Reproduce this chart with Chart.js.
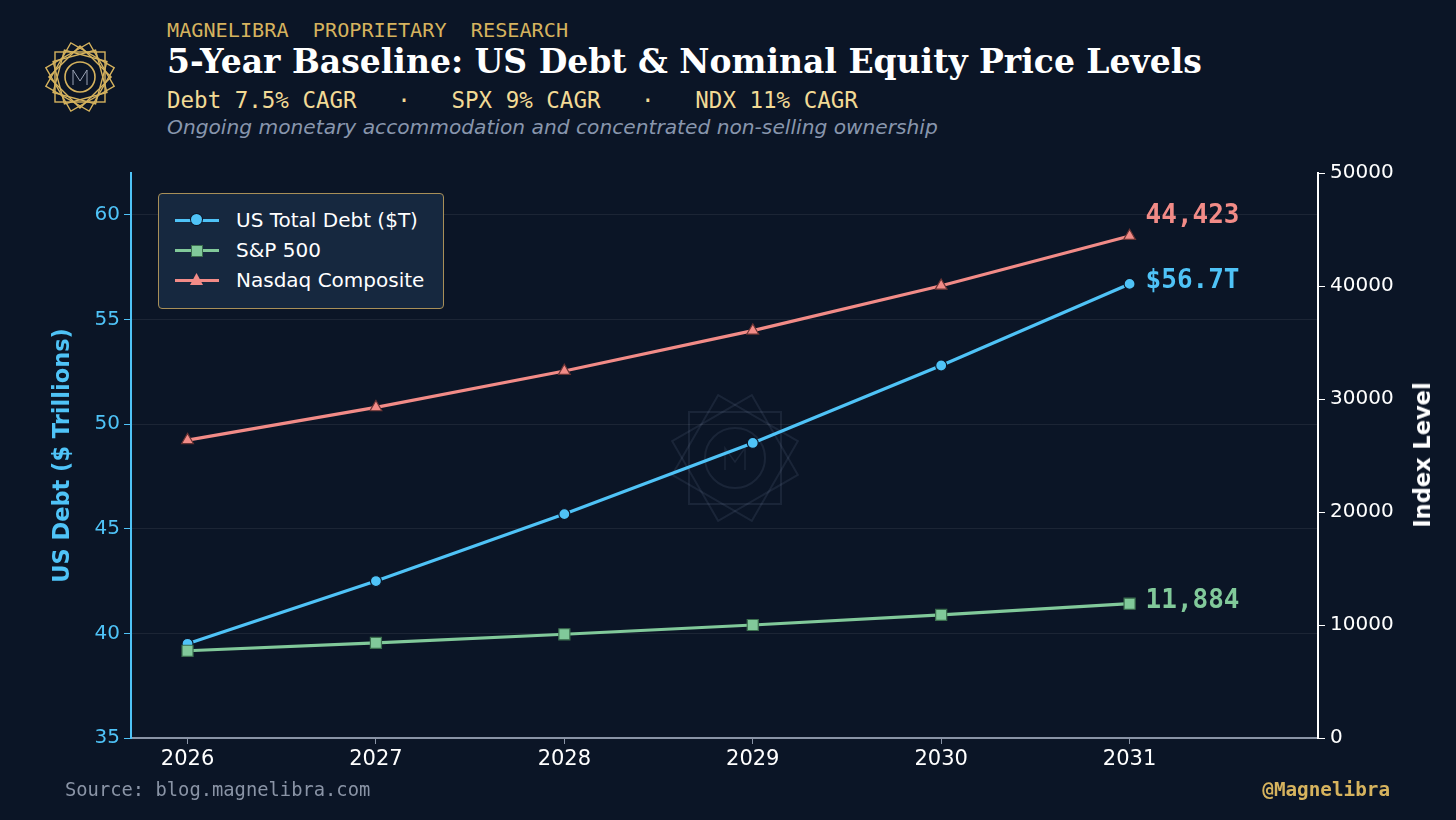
<!DOCTYPE html>
<html>
<head>
<meta charset="utf-8">
<script src="https://cdn.jsdelivr.net/npm/chart.js@4.4.1/dist/chart.umd.min.js"></script>
<style>
    html, body { margin: 0; padding: 0; }
    body {
        width: 1456px; height: 820px; overflow: hidden;
        background: #0b1526; position: relative;
        font-family: 'DejaVu Sans', sans-serif;
    }
    .abs { position: absolute; white-space: pre; }
    #kicker { left: 167px; top: 17px; font: 20.2px 'DejaVu Sans Mono', monospace; color: #d6b35e; line-height: 26px; }
    #title { left: 167px; top: 42px; font: bold 33px 'DejaVu Serif', serif; color: #ffffff; line-height: 40px; }
    #rates { left: 167px; top: 86px; font: 22.5px 'DejaVu Sans Mono', monospace; color: #f2da95; line-height: 28px; }
    #note { left: 167px; top: 114px; font: oblique 20.2px 'DejaVu Sans', sans-serif; color: #8896ad; line-height: 26px; }
    #source { left: 65px; top: 778px; font: 18.8px 'DejaVu Sans Mono', monospace; color: #8a94a6; line-height: 24px; }
    #handle { right: 66px; top: 778px; font: bold 19.3px 'DejaVu Sans Mono', monospace; color: #d6b35e; line-height: 24px; }
    #rightTitle {
        left: 1422px; top: 455px; font: bold 22.5px 'DejaVu Sans', sans-serif; color: #ffffff;
        line-height: 26px; transform: translate(-50%, -50%) rotate(-90deg);
    }
    #chart { position: absolute; left: 0; top: 0; }
    #legend {
        position: absolute; left: 158px; top: 193px; width: 284px; height: 114px;
        background: #16283f; border: 1px solid #a88f58; border-radius: 4px;
    }
    .row { position: absolute; left: 16px; height: 30px; }
    .row .line { position: absolute; left: 0; top: 13px; width: 44px; height: 3px; }
    .row .mk { position: absolute; }
    .row .lbl { position: absolute; left: 61px; top: 0; font: 20px 'DejaVu Sans', sans-serif; color: #ffffff; line-height: 28px; white-space: pre; }
    .endlbl { position: absolute; font: bold 26px 'DejaVu Sans Mono', monospace; line-height: 30px; white-space: pre; }
</style>
</head>
<body>
<svg class="abs" style="left:0;top:0" width="1456" height="820">
    <g id="logo" transform="translate(80,77)" fill="none" stroke="#d6b35e" stroke-width="1.4">
        <rect x="-25" y="-25" width="50" height="50"/>
        <rect x="-25" y="-25" width="50" height="50" transform="rotate(30)"/>
        <rect x="-25" y="-25" width="50" height="50" transform="rotate(60)"/>
        <rect x="-22" y="-22" width="44" height="44" transform="rotate(15)"/>
        <rect x="-22" y="-22" width="44" height="44" transform="rotate(45)"/>
        <rect x="-22" y="-22" width="44" height="44" transform="rotate(75)"/>
        <circle r="15" stroke-width="1.6"/>
        <path d="M-7 8 V-7 L0 4 L7 -7 V8" stroke="#9aa3b5" stroke-width="1"/>
    </g>
    <g transform="translate(735,458)" fill="none" stroke="#8aa0c0" stroke-opacity="0.12" stroke-width="2">
        <rect x="-46" y="-46" width="92" height="92"/>
        <rect x="-46" y="-46" width="92" height="92" transform="rotate(30)"/>
        <rect x="-46" y="-46" width="92" height="92" transform="rotate(60)"/>
        <circle r="30"/>
        <path d="M-10 12 V-10 L0 4 L10 -10 V12" stroke-width="1.5"/>
    </g>
</svg>

<div id="kicker" class="abs">MAGNELIBRA  PROPRIETARY  RESEARCH</div>
<div id="title" class="abs">5-Year Baseline: US Debt &amp; Nominal Equity Price Levels</div>
<div id="rates" class="abs">Debt 7.5% CAGR   ·   SPX 9% CAGR   ·   NDX 11% CAGR</div>
<div id="note" class="abs">Ongoing monetary accommodation and concentrated non-selling ownership</div>

<canvas id="chart" width="1456" height="820"></canvas>

<div id="legend"></div>
<div id="rightTitle" class="abs">Index Level</div>
<div id="source" class="abs">Source: blog.magnelibra.com</div>
<div id="handle" class="abs">@Magnelibra</div>

<script>
// data
const years = [2026, 2027, 2028, 2029, 2030, 2031];
const debtValues = [39.5, 42.5, 45.7, 49.1, 52.8, 56.7];
const spxValues = [7720, 8420, 9180, 10000, 10900, 11884];
const ndxValues = [26360, 29260, 32480, 36050, 40020, 44423];
const debtTicks = [35, 40, 45, 50, 55, 60];
const indexTicks = [0, 10000, 20000, 30000, 40000, 50000];

const BG = '#0b1526';
const BLUE = '#4fc3f7';
const GREEN = '#81c99a';
const PINK = '#f28b87';

function toPoints(values) {
    return values.map((v, i) => ({ x: years[i], y: v }));
}

const series = [
    { label: 'US Total Debt ($T)', values: debtValues, color: BLUE, axis: 'yDebt', style: 'circle', radius: 5.5, border: BG, order: 3,
      endText: '$' + debtValues[debtValues.length - 1].toFixed(1) + 'T', dy: -5 },
    { label: 'S&P 500', values: spxValues, color: GREEN, axis: 'yIndex', style: 'rect', radius: 7.8, border: '#3b6e4e', order: 1,
      endText: spxValues[spxValues.length - 1].toLocaleString('en-US'), dy: -5 },
    { label: 'Nasdaq Composite', values: ndxValues, color: PINK, axis: 'yIndex', style: 'triangle', radius: 6.8, border: '#6a3434', order: 2,
      endText: ndxValues[ndxValues.length - 1].toLocaleString('en-US'), dy: -22 }
];

// HTML legend
const legend = document.getElementById('legend');
series.forEach((s, i) => {
    const row = document.createElement('div');
    row.className = 'row';
    row.style.top = (12 + i * 30) + 'px';
    let mk;
    if (s.style === 'circle') {
        mk = `<div class="mk" style="left:16px;top:8px;width:11px;height:11px;border-radius:50%;background:${s.color};box-shadow:0 0 0 1px ${BG}"></div>`;
    } else if (s.style === 'rect') {
        mk = `<div class="mk" style="left:16px;top:9px;width:10px;height:10px;background:${s.color};border:1px solid ${s.border}"></div>`;
    } else {
        mk = `<div class="mk" style="left:15px;top:7px;width:13px;height:12px;background:${s.color};clip-path:polygon(50% 0,100% 100%,0 100%)"></div>`;
    }
    row.innerHTML = `<div class="line" style="background:${s.color}"></div>${mk}<div class="lbl">${s.label.replace('&', '&amp;')}</div>`;
    legend.appendChild(row);
});

// end-of-line value labels placed from the chart's own coordinates
const endLabels = series.map(s => {
    const el = document.createElement('div');
    el.className = 'endlbl';
    el.style.color = s.color;
    el.textContent = s.endText;
    document.body.appendChild(el);
    return el;
});

const endLabelPlugin = {
    id: 'endLabels',
    afterRender(chart) {
        series.forEach((s, i) => {
            const meta = chart.getDatasetMeta(i);
            const last = meta.data[meta.data.length - 1];
            endLabels[i].style.left = (last.x + 16) + 'px';
            endLabels[i].style.top = (last.y + s.dy - 15) + 'px';
        });
    }
};

const ctx = document.getElementById('chart').getContext('2d');
const chart = new Chart(ctx, {
    type: 'line',
    data: {
        datasets: series.map(s => ({
            label: s.label,
            data: toPoints(s.values),
            yAxisID: s.axis,
            borderColor: s.color,
            backgroundColor: s.color,
            borderWidth: 3.2,
            pointStyle: s.style,
            pointRadius: s.radius,
            pointBackgroundColor: s.color,
            pointBorderColor: s.border,
            pointBorderWidth: 1.2,
            tension: 0,
            order: s.order
        }))
    },
    options: {
        responsive: false,
        animation: false,
        events: [],
        layout: { padding: { top: 173, left: 0, right: 0, bottom: 0 } },
        plugins: {
            legend: { display: false },
            tooltip: { enabled: false }
        },
        scales: {
            x: {
                type: 'linear',
                min: 2025.7,
                max: 2032,
                afterBuildTicks: scale => { scale.ticks = years.map(v => ({ value: v })); },
                afterFit: scale => { scale.height = 82; },
                border: { color: '#8a94a6', width: 2 },
                grid: { drawOnChartArea: false, color: '#8a94a6', tickLength: 6 },
                ticks: {
                    color: '#ffffff',
                    font: { family: 'DejaVu Sans', size: 21 },
                    padding: 3,
                    callback: v => String(v)
                }
            },
            yDebt: {
                type: 'linear',
                position: 'left',
                min: 35,
                max: 62,
                afterBuildTicks: scale => { scale.ticks = debtTicks.map(v => ({ value: v })); },
                afterFit: scale => { scale.width = 131; },
                border: { color: BLUE, width: 2 },
                grid: { color: 'rgba(255,255,255,0.07)', tickColor: BLUE, tickLength: 7 },
                ticks: {
                    color: BLUE,
                    font: { family: 'DejaVu Sans', size: 20 },
                    padding: 4,
                    callback: v => String(v)
                },
                title: {
                    display: true,
                    text: 'US Debt ($ Trillions)',
                    color: BLUE,
                    font: { family: 'DejaVu Sans', size: 22.5, weight: 'bold' },
                    padding: { top: 50, bottom: 0 }
                }
            },
            yIndex: {
                type: 'linear',
                position: 'right',
                min: 0,
                max: 50000,
                afterBuildTicks: scale => { scale.ticks = indexTicks.map(v => ({ value: v })); },
                afterFit: scale => { scale.width = 138; },
                border: { color: '#ffffff', width: 2 },
                grid: { drawOnChartArea: false, color: '#ffffff', tickLength: 7 },
                ticks: {
                    color: '#ffffff',
                    font: { family: 'DejaVu Sans', size: 20 },
                    padding: 5,
                    callback: v => String(v)
                }
            }
        }
    },
    plugins: [endLabelPlugin]
});
</script>
</body>
</html>
